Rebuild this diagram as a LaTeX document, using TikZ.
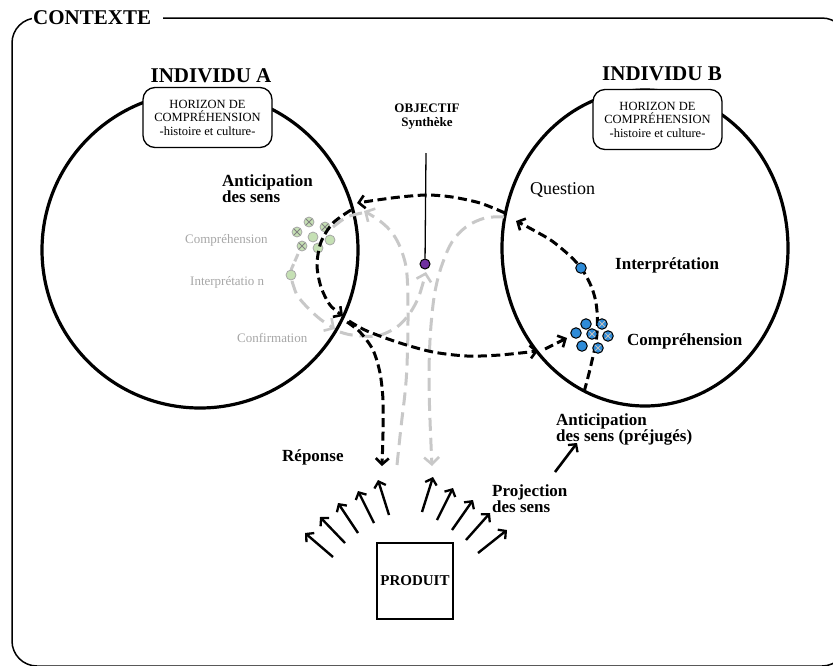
\documentclass[tikz,border=0pt]{standalone}
\usepackage{fontspec}
\setmainfont{Liberation Serif}
\usetikzlibrary{arrows.meta,shapes.geometric}
\definecolor{dashgray}{HTML}{C8C8C8}
\definecolor{txtgray}{HTML}{A6A6A6}
\definecolor{leaf}{HTML}{C5E0B4}
\definecolor{sky}{HTML}{2E8BD8}
\definecolor{grape}{HTML}{7030A0}
\begin{document}
\begin{tikzpicture}[x=1pt,y=-1pt,
  boldlbl/.style={inner sep=0, font=\bfseries\fontsize{17}{15}\selectfont, align=left},
  graylbl/.style={inner sep=0, text=txtgray, font=\fontsize{13}{15}\selectfont},
  horizon/.style={draw, line width=1.3, fill=white, rounded corners=12,
    minimum width=129, minimum height=60, inner sep=0, align=center,
    font=\fontsize{12.5}{13.5}\selectfont},
  title/.style={inner sep=0, font=\bfseries\fontsize{21}{24}\selectfont},
  bigring/.style={draw, line width=3.2, inner sep=0},
  blackflow/.style={line width=3, dash pattern=on 9pt off 4.5pt,
    -{Straight Barb[length=6pt,width=13pt,line width=2.6pt]}},
  grayflow/.style={dashgray, line width=3, dash pattern=on 13pt off 7pt,
    -{Straight Barb[length=7pt,width=15pt,line width=2.6pt]}},
  grayflowplain/.style={dashgray, line width=3, dash pattern=on 13pt off 7pt},
  fan/.style={line width=2.4, -{Straight Barb[length=5.5pt,width=12pt,line width=2.3pt]}},
  crossed/.style={path picture={\draw[#1, line width=0.8]
      (path picture bounding box.south west) -- (path picture bounding box.north east)
      (path picture bounding box.north west) -- (path picture bounding box.south east);}},
  gdot/.style={circle, inner sep=0, minimum size=10, fill=leaf, draw=gray!70, line width=0.8},
  bdot/.style={circle, inner sep=0, minimum size=10.5, fill=sky, draw=black, line width=1},
]
\useasboundingbox (0,0) rectangle (833,665);

% context frame
\draw[line width=1.5, rounded corners=25] (12,18) rectangle (847,666);
\node[fill=white, inner xsep=0, inner ysep=2, anchor=base west,
  font=\bfseries\fontsize{21}{24}\selectfont] (ctx) at (32,24) {\kern1pt CONTEXTE\kern12pt};

% the two individuals
\node[bigring, circle, minimum size=316] (indA) at (200,250) {};
\node[bigring, ellipse, minimum width=286, minimum height=316] (indB) at (645,248) {};
\node[title, anchor=base] (titleA) at (211,82) {INDIVIDU A};
\node[title, anchor=base] (titleB) at (662,80) {INDIVIDU B};
\node[horizon] (horA) at (207.5,117.5) {HORIZON DE\\COMPRÉHENSION\\-histoire et culture-};
\node[horizon] (horB) at (657.5,119.5) {HORIZON DE\\COMPRÉHENSION\\-histoire et culture-};

% objective
\node[inner sep=0, align=center, font=\bfseries\fontsize{13}{14}\selectfont, anchor=north] (obj) at (427,104) {OBJECTIF\\Synthèke};
\coordinate (objtop) at (426,153);

% labels
\node[boldlbl, anchor=north west] (antA) at (222,174) {Anticipation\\des sens};
\node[graylbl, anchor=base west] (compA) at (185,243) {Compréhension};
\node[graylbl, anchor=base west] (intA) at (190,285) {Interprétatio n};
\node[graylbl, anchor=base west] (confA) at (237,342) {Confirmation};
\node[inner sep=0, anchor=base west, font=\fontsize{18}{20}\selectfont] (quest) at (530,194) {Question};
\node[boldlbl, anchor=base west] (intB) at (615,269) {Interprétation};
\node[boldlbl, anchor=base west] (compB) at (627,345) {Compréhension};
\node[boldlbl, anchor=base west] (rep) at (282,461) {Réponse};
\node[boldlbl, anchor=north west] (proj) at (492,484) {Projection\\des sens};
\node[boldlbl, anchor=north west] (antB) at (556,413) {Anticipation\\des sens (préjugés)};

% product and its projections
\node[draw, line width=1.4, minimum width=76, minimum height=76, inner sep=0,
  font=\bfseries\fontsize{15}{17}\selectfont] (prod) at (415,581) {PRODUIT};
\foreach \i/\sx/\sy/\ex/\ey in {1/333/557/305/533, 2/345/543/320/517, 3/358/533/338/503,
    4/374/523/358/491, 5/389/515/378/480, 6/422/512/433/477, 7/437/520/453/488,
    8/452/530/473/500, 9/466/540/490/513, 10/478/553/507/530}{
  \coordinate (fs\i) at (\sx,\sy);
  \coordinate (fe\i) at (\ex,\ey);
  \draw[fan] (fs\i) -- (fe\i);
}
\coordinate (preS) at (555,472);
\coordinate (preE) at (577,443);
\draw[fan, line width=2.6] (preS) -- (preE);

% grey flows
\coordinate (g1s) at (397,465);
\coordinate (g1e) at (364,211);
\draw[grayflow] plot[smooth, tension=0.6] coordinates {(g1s) (401,427) (405,393) (407,365)
  (408,320) (407,275) (402,252) (393,234) (380,221) (g1e)};
\coordinate (ga1s) at (362,213);
\coordinate (ga1e) at (333,227);
\draw[grayflowplain] plot[smooth] coordinates {(ga1s) (347,217) (ga1e)};
\coordinate (ga2s) at (298,254);
\coordinate (ga2e) at (291,270);
\draw[grayflowplain, dash pattern=on 8pt off 3pt] (ga2s) -- (ga2e);
\coordinate (ga3s) at (292,281);
\coordinate (ga3e) at (335,329);
\draw[grayflow] plot[smooth] coordinates {(ga3s) (297,295) (307,307) (320,319) (ga3e)};
\coordinate (g3s) at (340,332);
\coordinate (g3e) at (426,272);
\draw[grayflow] plot[smooth] coordinates {(g3s) (352,335) (377,336) (397,327) (410,313)
  (419,296) (g3e)};
\coordinate (g2s) at (504,217);
\coordinate (g2e) at (432,466);
\draw[grayflow] plot[smooth, tension=0.6] coordinates {(g2s) (485,218) (466,227) (452,242)
  (443,262) (437,282) (433,305) (430,340) (429,380) (430,420) (g2e)};

% green dots (left circle)
\foreach \n/\x/\y in {1/309/222, 2/325/227, 3/297/232, 4/302/246}
  \node[gdot, crossed=gray] (gx\n) at (\x,\y) {};
\foreach \n/\x/\y in {1/313/237, 2/330/240, 3/318/248}
  \node[gdot] (gp\n) at (\x,\y) {};
\node[gdot] (gint) at (291,275) {};

% black flows
\coordinate (b1s) at (584,392);
\coordinate (b1e) at (516,221);
\draw[blackflow] plot[smooth, tension=0.6] coordinates {(b1s) (591,365) (597,333) (595,298)
  (581,268) (556,244) (535,231) (b1e)};
\coordinate (qs) at (505,213);
\coordinate (qe) at (357,203);
\draw[blackflow] plot[smooth] coordinates {(qs) (480,203) (452,197) (427,195) (400,197)
  (377,200) (qe)};
\coordinate (as) at (351,210);
\coordinate (ae) at (343,316);
\draw[blackflow] plot[smooth] coordinates {(as) (333,223) (321,242) (317,265) (321,287)
  (330,305) (ae)};
\coordinate (cs) at (349,321);
\coordinate (ce) at (538,351);
\draw[blackflow] plot[smooth] coordinates {(cs) (367,331) (400,343) (433,352) (467,356)
  (500,355) (ce)};
\coordinate (cs2) at (545,349);
\coordinate (ce2) at (567,338);
\draw[blackflow] (cs2) -- (ce2);
\coordinate (rs) at (347,322);
\coordinate (re) at (382,466);
\draw[blackflow] plot[smooth] coordinates {(rs) (360,332) (373,350) (380,373) (383,400)
  (383,433) (re)};

% blue dots (right circle)
\node[bdot] (bint) at (581,268) {};
\foreach \n/\x/\y in {1/586/324, 2/576/333, 3/582/346}
  \node[bdot] (bp\n) at (\x,\y) {};
\foreach \n/\x/\y in {1/602/324, 2/592/334, 3/608/336, 4/598/348}
  \node[bdot, crossed=gray!50] (bx\n) at (\x,\y) {};

% objective pin
\node[circle, inner sep=0, minimum size=10, fill=grape, draw=black, line width=1] (pin) at (425,264) {};
\draw[line width=1.3] (objtop) -- (pin);
\end{tikzpicture}
\end{document}
